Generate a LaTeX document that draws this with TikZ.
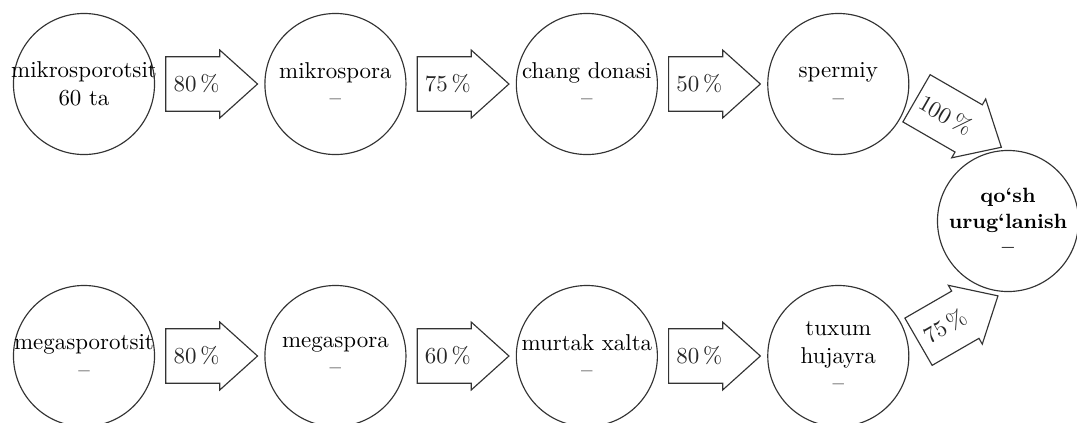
\documentclass[tikz,border=0pt]{standalone}
\usetikzlibrary{shapes,arrows,positioning}

\begin{document}
\begin{tikzpicture}[x=0.436pt, y=-0.436pt,
    stage/.style={circle, draw=black!80, line width=0.5pt, minimum size=61.5pt, inner sep=0pt},
    pct/.style={single arrow, draw=black!80, line width=0.5pt, single arrow tip angle=84,
        single arrow head extend=2pt, minimum width=29.6pt, minimum height=40pt,
        inner xsep=2pt, inner ysep=3.9pt, text=black!85}
]
    \useasboundingbox (0,0) rectangle (1077,422);

    % Top row (pollen side)
    \node (mikrosporotsit) [stage, label={[align=center]center:mikrosporotsit\\60 ta}] at (84,84) {};
    \node (p1) [pct, right=4.4pt of mikrosporotsit] {80\,\%};
    \node (mikrospora) [stage, right=2.6pt of p1, label={[align=center]center:mikrospora\\--}] {};
    \node (p2) [pct, right=4.4pt of mikrospora] {75\,\%};
    \node (chang) [stage, right=2.6pt of p2, label={[align=center]center:chang donasi\\--}] {};
    \node (p3) [pct, right=4.4pt of chang] {50\,\%};
    \node (spermiy) [stage, right=2.6pt of p3, label={[align=center]center:spermiy\\--}] {};

    % Bottom row (ovule side)
    \node (megasporotsit) [stage, label={[align=center]center:megasporotsit\\--}] at (84,356) {};
    \node (q1) [pct, right=4.4pt of megasporotsit] {80\,\%};
    \node (megaspora) [stage, right=2.6pt of q1, label={[align=center]center:megaspora\\--}] {};
    \node (q2) [pct, right=4.4pt of megaspora] {60\,\%};
    \node (murtak) [stage, right=2.6pt of q2, label={[align=center]center:murtak xalta\\--}] {};
    \node (q3) [pct, right=4.4pt of murtak] {80\,\%};
    \node (tuxum) [stage, right=2.6pt of q3, label={[align=center]center:tuxum\\hujayra\\--}] {};

    % Fertilisation
    \node (qosh) [stage, label={[align=center, font=\small\bfseries]center:qo`sh\\urug`lanish\\--}] at (1008,221) {};
    \node (p4) [pct, rotate=-30, anchor=tail] at (916,98) {100\,\%};
    \node (q4) [pct, rotate=30, anchor=tail] at (918,342) {75\,\%};

\end{tikzpicture}
\end{document}
